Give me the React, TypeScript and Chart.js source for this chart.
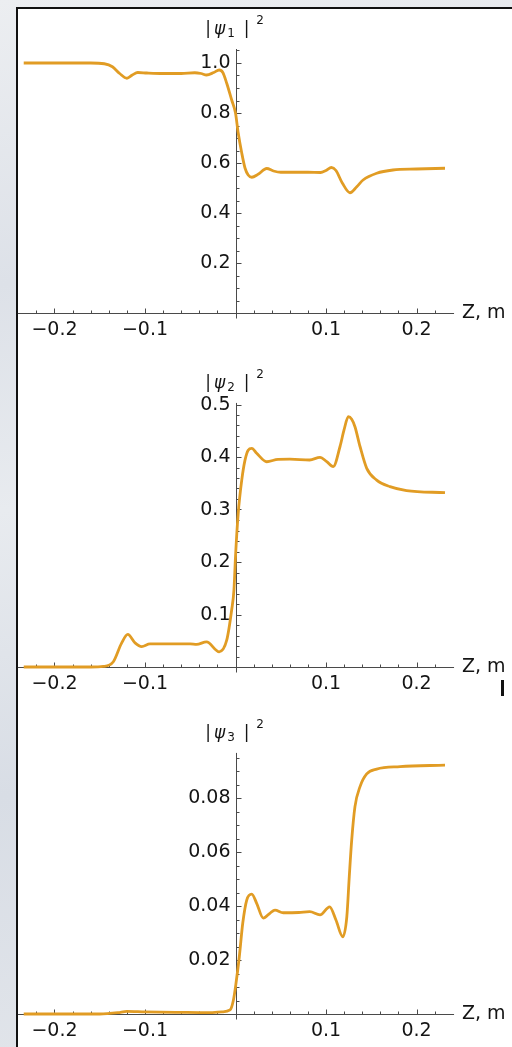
import React, { useEffect, useRef } from 'react';
import { Chart, registerables } from 'chart.js';

Chart.register(...registerables);

// ---- data: panel 1 |psi1|^2 ----
const z1 = [-0.234, -0.2, -0.16, -0.145, -0.136, -0.128, -0.12, -0.114, -0.108, -0.098, -0.08, -0.06, -0.045, -0.038, -0.032, -0.024, -0.018, -0.014, -0.0097, -0.0042, 0, 0.003, 0.0069, 0.0105, 0.014, 0.018, 0.025, 0.0345, 0.042, 0.05, 0.065, 0.08, 0.094, 0.1, 0.106, 0.111, 0.118, 0.1265, 0.134, 0.141, 0.156, 0.174, 0.2, 0.2315];
const psi1 = [1.0, 1.0, 1.0, 0.997, 0.985, 0.958, 0.939, 0.952, 0.962, 0.96, 0.958, 0.958, 0.961, 0.958, 0.952, 0.962, 0.972, 0.962, 0.919, 0.852, 0.8, 0.72, 0.64, 0.58, 0.552, 0.543, 0.555, 0.578, 0.568, 0.563, 0.563, 0.563, 0.562, 0.57, 0.582, 0.57, 0.52, 0.481, 0.505, 0.532, 0.559, 0.572, 0.576, 0.579];

// ---- data: panel 2 |psi2|^2 ----
const z2 = [-0.234, -0.2, -0.16, -0.146, -0.135, -0.126, -0.119, -0.111, -0.1037, -0.0945, -0.07, -0.05, -0.043, -0.032, -0.018, -0.0097, -0.0042, -0.0017, 0, 0.003, 0.0069, 0.0105, 0.014, 0.018, 0.0234, 0.0345, 0.047, 0.06, 0.082, 0.0934, 0.1008, 0.108, 0.1155, 0.12, 0.1247, 0.1284, 0.132, 0.1376, 0.145, 0.156, 0.1707, 0.189, 0.2315];
const psi2 = [0, 0, 0, 0.001, 0.01, 0.045, 0.062, 0.046, 0.039, 0.044, 0.044, 0.044, 0.043, 0.048, 0.029, 0.051, 0.109, 0.147, 0.21, 0.293, 0.356, 0.394, 0.413, 0.4165, 0.407, 0.391, 0.3956, 0.396, 0.3943, 0.3994, 0.391, 0.3816, 0.42, 0.452, 0.4768, 0.472, 0.4577, 0.42, 0.3784, 0.356, 0.3435, 0.336, 0.332];

// ---- data: panel 3 |psi3|^2 ----
const z3 = [-0.234, -0.15, -0.13, -0.12, -0.1, -0.06, -0.03, -0.015, -0.006, -0.0024, 0.0006, 0.0042, 0.008, 0.0124, 0.018, 0.0234, 0.0307, 0.038, 0.0436, 0.0528, 0.07, 0.082, 0.0934, 0.104, 0.111, 0.1185, 0.123, 0.1257, 0.1284, 0.132, 0.1376, 0.145, 0.156, 0.1818, 0.2315];
const psi3 = [0, 0, 0.0005, 0.001, 0.0008, 0.0006, 0.0005, 0.0008, 0.0015, 0.005, 0.0115, 0.0212, 0.0336, 0.0422, 0.0444, 0.041, 0.0355, 0.0373, 0.0385, 0.0375, 0.0376, 0.0379, 0.0367, 0.0397, 0.0348, 0.0286, 0.036, 0.0508, 0.0644, 0.0768, 0.0842, 0.0889, 0.0907, 0.0916, 0.0922];

// ---- tick labels ----
const xTickValues = [-0.2, -0.1, 0.1, 0.2];
const xTickLabels = ['\u22120.2', '\u22120.1', '0.1', '0.2'];
const yTicks1 = [0.2, 0.4, 0.6, 0.8, 1.0];
const yLabels1 = ['0.2', '0.4', '0.6', '0.8', '1.0'];
const yTicks2 = [0.1, 0.2, 0.3, 0.4, 0.5];
const yLabels2 = ['0.1', '0.2', '0.3', '0.4', '0.5'];
const yTicks3 = [0.02, 0.04, 0.06, 0.08];
const yLabels3 = ['0.02', '0.04', '0.06', '0.08'];
const xAxisLabel = 'Z, m';

const W = 512;
const H = 1047;
const X0 = 235.5;
const KX = 905;
const X_MIN = -0.2405;
const X_MAX = 0.2415;
const LINE = '#e19c24';
const AXIS = '#4a4a4a';
const TEXT = '#141414';
const FONT = '"DejaVu Sans", "Liberation Sans", sans-serif';

type PanelCfg = {
  z: number[];
  v: number[];
  y0: number; // pixel of y=0
  ky: number; // px per unit
  yMin: number;
  yMax: number;
  minor: number;
  ratio: number;
  yTicks: number[];
  yLabels: string[];
  sub: string;
};

const panels: PanelCfg[] = [
  { z: z1, v: psi1, y0: 313, ky: 250, yMin: -0.02, yMax: 1.056, minor: 0.05, ratio: 4, yTicks: yTicks1, yLabels: yLabels1, sub: '1' },
  { z: z2, v: psi2, y0: 667, ky: 525, yMin: -0.0095, yMax: 0.503, minor: 0.02, ratio: 5, yTicks: yTicks2, yLabels: yLabels2, sub: '2' },
  { z: z3, v: psi3, y0: 1014, ky: 2700, yMin: -0.00185, yMax: 0.0967, minor: 0.005, ratio: 4, yTicks: yTicks3, yLabels: yLabels3, sub: '3' },
];

function seg(ctx: CanvasRenderingContext2D, x1: number, y1: number, x2: number, y2: number) {
  ctx.beginPath();
  ctx.moveTo(x1, y1);
  ctx.lineTo(x2, y2);
  ctx.stroke();
}

function makePlugin(p: PanelCfg) {
  return {
    id: 'mmaAxes',
    beforeDatasetsDraw(chart: any) {
      const { ctx, chartArea, scales } = chart;
      const xs = scales.x;
      const ys = scales.y;
      const ax = Math.round(xs.getPixelForValue(0)) + 0.5;
      const ay = Math.round(ys.getPixelForValue(0)) + 0.5;
      ctx.save();
      ctx.strokeStyle = AXIS;
      ctx.lineWidth = 1;
      // axes
      seg(ctx, chartArea.left, ay, chartArea.right, ay);
      seg(ctx, ax, chartArea.top, ax, ay + 5);
      // x ticks
      for (let i = -12; i <= 12; i++) {
        if (i === 0) continue;
        const px = Math.round(xs.getPixelForValue(i * 0.02)) + 0.5;
        if (px < chartArea.left + 2 || px > chartArea.right - 2) continue;
        const len = i % 5 === 0 ? 5 : 3;
        seg(ctx, px, ay, px, ay - len);
      }
      // y ticks
      for (let i = 1; i * p.minor <= p.yMax + 1e-9; i++) {
        const py = Math.round(ys.getPixelForValue(i * p.minor)) + 0.5;
        const len = i % p.ratio === 0 ? 5 : 3;
        seg(ctx, ax, py, ax + len, py);
      }
      // tick labels
      ctx.fillStyle = TEXT;
      ctx.font = '19px ' + FONT;
      ctx.textBaseline = 'middle';
      ctx.textAlign = 'right';
      p.yTicks.forEach((t, i) => {
        ctx.fillText(p.yLabels[i], ax - 6, ys.getPixelForValue(t) + 0.5);
      });
      ctx.textAlign = 'center';
      xTickValues.forEach((t, i) => {
        ctx.fillText(xTickLabels[i], xs.getPixelForValue(t), ay + 17);
      });
      ctx.textAlign = 'left';
      ctx.fillText(xAxisLabel, 462, ay);
      // title |psi_n|^2
      const cy = chartArea.top - 19;
      ctx.textAlign = 'center';
      ctx.font = '17px ' + FONT;
      ctx.fillText('|', ax - 28.5, cy);
      ctx.fillText('|', ax + 10, cy);
      ctx.font = 'italic 17px ' + FONT;
      ctx.fillText('\u03c8', ax - 17, cy);
      ctx.font = '12px ' + FONT;
      ctx.fillText(p.sub, ax - 5.5, cy + 3.5);
      ctx.fillText('2', ax + 23.5, cy - 9);
      ctx.restore();
    },
  };
}

function Panel({ p }: { p: PanelCfg }) {
  const ref = useRef<HTMLCanvasElement | null>(null);
  useEffect(() => {
    if (!ref.current) return;
    const left = X0 + X_MIN * KX;
    const right = X0 + X_MAX * KX;
    const top = p.y0 - p.yMax * p.ky;
    const bottom = p.y0 - p.yMin * p.ky;
    const chart = new Chart(ref.current, {
      type: 'line',
      data: {
        datasets: [
          {
            data: p.z.map((z, i) => ({ x: z, y: p.v[i] })),
            borderColor: LINE,
            borderWidth: 2.8,
            pointRadius: 0,
            fill: false,
            cubicInterpolationMode: 'monotone',
            clip: false as any,
          },
        ],
      },
      options: {
        responsive: false,
        maintainAspectRatio: false,
        animation: false,
        events: [],
        layout: { padding: { left, right: W - right, top, bottom: H - bottom } },
        plugins: { legend: { display: false }, title: { display: false }, tooltip: { enabled: false } },
        scales: {
          x: { type: 'linear', min: X_MIN, max: X_MAX, display: false },
          y: { type: 'linear', min: p.yMin, max: p.yMax, display: false },
        },
      },
      plugins: [makePlugin(p)],
    });
    return () => chart.destroy();
  }, [p]);
  return (
    <canvas
      ref={ref}
      width={W}
      height={H}
      style={{ position: 'absolute', left: 0, top: 0, width: W, height: H }}
    />
  );
}

export default function App() {
  useEffect(() => {
    document.body.style.margin = '0';
  }, []);
  return (
    <div
      style={{
        position: 'absolute',
        left: 0,
        top: 0,
        width: W,
        height: H,
        overflow: 'hidden',
        background: 'linear-gradient(170deg, #eceef1 0%, #dde1e8 25%, #e8ebef 45%, #d8dde5 70%, #e3e6eb 100%)',
      }}
    >
      <div
        style={{
          position: 'absolute',
          left: 16,
          top: 7,
          right: 0,
          bottom: 0,
          background: '#ffffff',
          borderTop: '2px solid #111',
          borderLeft: '2px solid #111',
        }}
      />
      <div style={{ position: 'absolute', left: 501, top: 680, width: 3, height: 16, background: '#111' }} />
      {panels.map((p, i) => (
        <Panel key={i} p={p} />
      ))}
    </div>
  );
}
